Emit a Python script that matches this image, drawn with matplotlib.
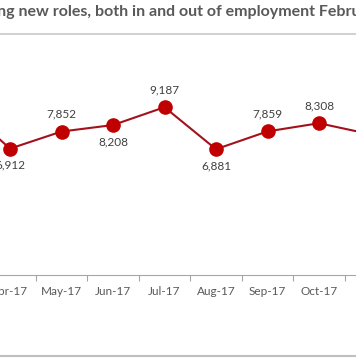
import matplotlib
matplotlib.use("Agg")
import matplotlib.pyplot as plt
from matplotlib.lines import Line2D

plt.rcParams['font.family'] = ['Lato', 'DejaVu Sans']

months = ['Mar-17', 'Apr-17', 'May-17', 'Jun-17', 'Jul-17', 'Aug-17',
          'Sep-17', 'Oct-17', 'Nov-17']
values = [9450, 6912, 7852, 8208, 9187, 6881, 7859, 8308, 7700]
label_side = ['above', 'below', 'above', 'below', 'above', 'below',
              'above', 'above', 'below']
title = ("Number of people starting new roles, both in and out of "
         "employment February 2017 - January 2018")
title_cut = "Number of people starti"   # part that falls off the left edge

W, H = 356, 364
fig = plt.figure(figsize=(W / 100, H / 100), dpi=100)

# the plot area is wider than the picture, only Apr..Oct fully show
x_axis_px = 274.5
top_px = 56
ax = fig.add_axes([0, (H - x_axis_px) / H, 1, (x_axis_px - top_px) / H])
x = list(range(len(months)))
ax.plot(x, values, color='#a3111c', lw=1.5, marker='o', ms=9.5,
        mfc='#c00000', mec='#c00000', zorder=3)

for s in ['left', 'right', 'top']:
    ax.spines[s].set_visible(False)
ax.spines['bottom'].set_color('#a6a6a6')
ax.set_yticks([])
ax.set_xticks(x)
ax.set_xticklabels(months, fontsize=8.5, color='#595959')
ax.tick_params(axis='x', which='major', length=0, pad=8)
ax.set_xticks([i - 0.5 for i in range(len(months) + 1)], minor=True)
ax.tick_params(axis='x', which='minor', length=4, color='#a6a6a6', width=0.8)

step = 51.5
ax.set_xlim(1 - 10 / step, 1 + (W - 10) / step)
ax.set_ylim(0, 12000)

for i, v in enumerate(values):
    dy = 12.5 if label_side[i] == 'above' else -12
    ax.annotate(f'{v:,}', (i, v), xytext=(0, dy), textcoords='offset points',
                ha='center', va='center', fontsize=8.5, color='#404040',
                annotation_clip=True, clip_on=True)

# title, placed so that it is cut at both edges like the source
r = fig.canvas.get_renderer()
tmp = fig.text(0, 0, title_cut, fontsize=11.5, fontweight='bold')
cut_w = tmp.get_window_extent(renderer=r).width
tmp.remove()
fig.text((-cut_w - 3) / W, 1 - 12 / H, title, fontsize=11.5,
         fontweight='bold', color='#595959', va='center', ha='left')

fig.add_artist(Line2D([0, 1], [1 - 34 / H] * 2, transform=fig.transFigure,
                      color='#c8c8c8', lw=1.2))
fig.add_artist(Line2D([0, 1], [1 - 356 / H] * 2, transform=fig.transFigure,
                      color='#bfbfbf', lw=1.5))

fig.savefig('out.png', dpi=100)
